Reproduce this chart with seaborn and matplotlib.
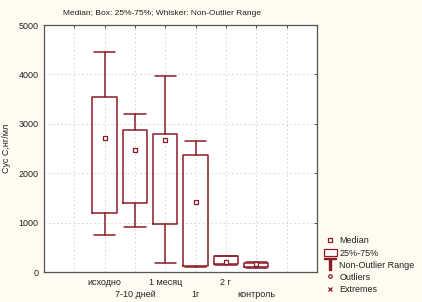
"""
boxplot of Cys C by period
"""

import matplotlib
matplotlib.use("Agg")
import matplotlib.pyplot as plt
from matplotlib.lines import Line2D
from matplotlib.patches import Rectangle
import pandas as pd
import seaborn as sns

# data
groups = ["исходно", "7-10 дней", "1 месяц", "1г", "2 г", "контроль"]
positions = [2, 3, 4, 5, 6, 7]
median = [2710, 2470, 2670, 1420, 200, 160]
q1 = [1190, 1400, 970, 120, 160, 110]
q3 = [3540, 2870, 2790, 2370, 320, 190]
wmin = [750, 910, 180, 100, 150, 90]
wmax = [4450, 3200, 3960, 2650, 330, 200]

color = "#8c1d28"

sns.set_theme(style="white")
plt.rcParams["font.family"] = ["Liberation Sans", "DejaVu Sans"]

fig = plt.figure(figsize=(4.22, 3.02), dpi=100, facecolor="#fffbf0")
ax = fig.add_axes([0.104, 0.099, 0.647, 0.818])
ax.set_facecolor("white")

stats = []
for i in range(len(groups)):
    stats.append({
        "med": median[i], "q1": q1[i], "q3": q3[i],
        "whislo": wmin[i], "whishi": wmax[i], "fliers": [],
    })

ax.bxp(
    stats,
    positions=positions,
    widths=0.8,
    showfliers=False,
    capwidths=0.7,
    boxprops=dict(color=color, linewidth=1.1),
    whiskerprops=dict(color=color, linewidth=1.1),
    capprops=dict(color=color, linewidth=1.1),
    medianprops=dict(linewidth=0),
    manage_ticks=False,
)

df = pd.DataFrame({"pos": positions, "median": median})
sns.scatterplot(
    data=df, x="pos", y="median", ax=ax,
    marker="s", s=9, facecolor="white", edgecolor=color, linewidth=0.9,
    zorder=5
)

ax.set_xlim(0, 9)
ax.set_ylim(0, 5000)
ax.set_yticks([0, 1000, 2000, 3000, 4000, 5000])
ax.set_xticks(range(1, 9), minor=True)
ax.set_xticks(positions)
ax.set_xticklabels(groups)
ax.grid(True, which="both", axis="x", color="#d0d0d0", linestyle=(0, (2, 3)), linewidth=0.6)
ax.grid(True, axis="y", color="#d0d0d0", linestyle=(0, (2, 3)), linewidth=0.6)
ax.tick_params(axis="both", which="both", direction="in", length=2.5, width=0.6,
               labelsize=6.5, colors="#333333", top=True, right=True)
ax.tick_params(axis="y", pad=4, labelcolor="#222222")
ax.tick_params(axis="x", labelcolor="#222222")
for i, t in enumerate(ax.xaxis.get_major_ticks()):
    t.set_pad(13 if i % 2 == 1 else 4)
ax.set_xlabel("")
ax.set_ylabel("Сус С,нг/мл", fontsize=6.5, color="#222222")
ax.yaxis.set_label_coords(-0.12, 0.5)
for s in ax.spines.values():
    s.set_color("#555555")
    s.set_linewidth(0.9)

fig.text(0.385, 0.955, "Median; Box: 25%-75%; Whisker: Non-Outlier Range",
         ha="center", va="center", fontsize=6, color="#222222")

handles = [
    Line2D([], [], marker="s", linestyle="", markersize=3, markerfacecolor="white",
           markeredgecolor=color, markeredgewidth=0.9),
    Rectangle((0, 0), 1, 1, facecolor="white", edgecolor=color, linewidth=0.9),
    Line2D([], [], marker="$\\top$", linestyle="", markersize=9, color=color),
    Line2D([], [], marker="o", linestyle="", markersize=2.5, markerfacecolor="white",
           markeredgecolor=color, markeredgewidth=0.9),
    Line2D([], [], marker="x", linestyle="", markersize=3, color=color,
           markeredgewidth=0.9),
]
fig.legend(handles, ["Median", "25%-75%", "Non-Outlier Range", "Outliers", "Extremes"],
           loc="upper left", bbox_to_anchor=(0.755, 0.235), frameon=False,
           fontsize=6.5, handlelength=1.4, handleheight=0.9, handletextpad=0.3,
           labelspacing=0.35, borderpad=0.1, labelcolor="#222222")

plt.savefig("out.png", dpi=100, facecolor=fig.get_facecolor())
plt.close()
